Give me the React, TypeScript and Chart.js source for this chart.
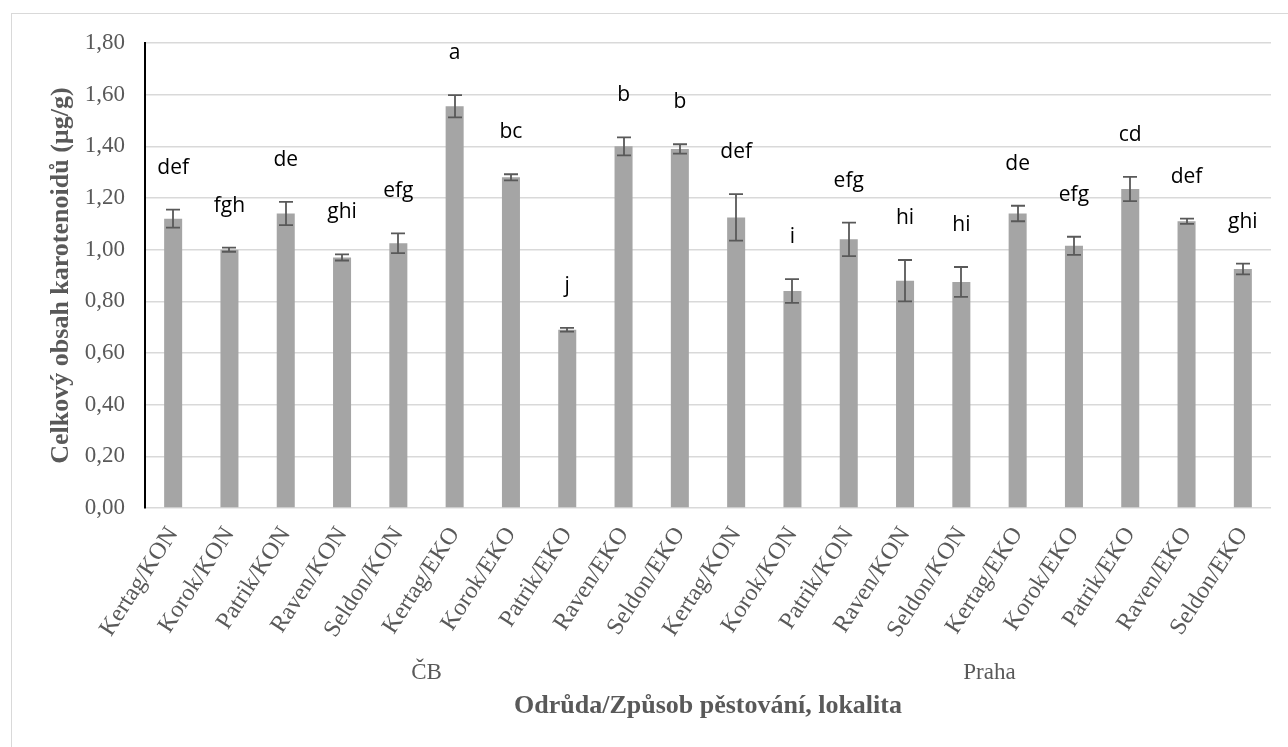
import React, { useEffect, useRef } from 'react';
import { Chart, registerables } from 'chart.js';

Chart.register(...registerables);

const categories = [
  'Kertag/KON', 'Korok/KON', 'Patrik/KON', 'Raven/KON', 'Seldon/KON',
  'Kertag/EKO', 'Korok/EKO', 'Patrik/EKO', 'Raven/EKO', 'Seldon/EKO',
  'Kertag/KON', 'Korok/KON', 'Patrik/KON', 'Raven/KON', 'Seldon/KON',
  'Kertag/EKO', 'Korok/EKO', 'Patrik/EKO', 'Raven/EKO', 'Seldon/EKO',
];
const groups = ['ČB', 'Praha'];
const values = [1.12, 1.0, 1.14, 0.97, 1.025, 1.555, 1.28, 0.69, 1.4, 1.39, 1.125, 0.84, 1.04, 0.88, 0.875, 1.14, 1.015, 1.235, 1.11, 0.925];
const errors = [0.035, 0.008, 0.045, 0.012, 0.038, 0.043, 0.012, 0.007, 0.035, 0.018, 0.09, 0.046, 0.065, 0.08, 0.058, 0.03, 0.035, 0.047, 0.01, 0.021];
const letters = ['def', 'fgh', 'de', 'ghi', 'efg', 'a', 'bc', 'j', 'b', 'b', 'def', 'i', 'efg', 'hi', 'hi', 'de', 'efg', 'cd', 'def', 'ghi'];
const yMin = 0;
const yMax = 1.8;
const yStep = 0.2;
const yTitle = 'Celkový obsah karotenoidů (µg/g)';
const xTitle = 'Odrůda/Způsob pěstování, lokalita';

const TEXT = '#595959';
const SERIF = '"Liberation Serif", "Times New Roman", serif';

const overlay = {
  id: 'overlay',
  afterDatasetsDraw(chart: any) {
    const { ctx } = chart;
    const meta = chart.getDatasetMeta(0);
    const y = chart.scales.y;
    const x = chart.scales.x;
    ctx.save();
    // error bars
    ctx.strokeStyle = '#595959';
    ctx.lineWidth = 1.8;
    meta.data.forEach((bar: any, i: number) => {
      const top = y.getPixelForValue(values[i] + errors[i]);
      const bot = y.getPixelForValue(values[i] - errors[i]);
      const cx = Math.round(bar.x);
      const cap = 7;
      ctx.beginPath();
      ctx.moveTo(cx, top);
      ctx.lineTo(cx, bot);
      ctx.moveTo(cx - cap, top);
      ctx.lineTo(cx + cap, top);
      ctx.moveTo(cx - cap, bot);
      ctx.lineTo(cx + cap, bot);
      ctx.stroke();
    });
    // significance letters
    ctx.fillStyle = '#000';
    ctx.font = '21px "Open Sans", sans-serif';
    ctx.textAlign = 'center';
    ctx.textBaseline = 'middle';
    meta.data.forEach((bar: any, i: number) => {
      const top = y.getPixelForValue(values[i] + errors[i]);
      ctx.fillText(letters[i], bar.x, top - 42);
    });
    // group labels
    ctx.fillStyle = TEXT;
    ctx.font = `23px ${SERIF}`;
    const per = categories.length / groups.length;
    groups.forEach((g, gi) => {
      const a = x.getPixelForTick(gi * per + per / 2 - 1);
      const b = x.getPixelForTick(gi * per + per / 2);
      ctx.fillText(g, (a + b) / 2, x.bottom - 74);
    });
    ctx.restore();
  },
};

export default function App() {
  const ref = useRef<HTMLCanvasElement>(null);
  useEffect(() => {
    document.body.style.margin = '0';
    document.body.style.overflow = 'hidden';
    const canvas = ref.current!;
    const chart = new Chart(canvas, {
      type: 'bar',
      data: {
        labels: categories,
        datasets: [
          {
            data: values,
            backgroundColor: '#a5a5a5',
            barPercentage: 0.32,
            categoryPercentage: 1,
          },
        ],
      },
      options: {
        animation: false,
        responsive: false,
        devicePixelRatio: 1,
        layout: { padding: { left: 0, right: 17, top: 43, bottom: 0 } },
        plugins: { legend: { display: false }, tooltip: { enabled: false } },
        scales: {
          x: {
            grid: { display: false },
            border: { display: false },
            ticks: {
              autoSkip: false,
              minRotation: 57,
              maxRotation: 57,
              padding: 6,
              color: TEXT,
              font: { family: SERIF, size: 24 },
            },
            title: {
              display: true,
              text: xTitle,
              color: TEXT,
              font: { family: SERIF, size: 26, weight: 'bold' },
              padding: { top: 0, bottom: 25 },
            },
            afterFit: (s: any) => {
              s.height = 239;
            },
          },
          y: {
            min: yMin,
            max: yMax,
            ticks: {
              stepSize: yStep,
              padding: 20,
              color: TEXT,
              font: { family: SERIF, size: 23 },
              callback: (v: any) => Number(v).toFixed(2).replace('.', ','),
            },
            grid: { color: '#d9d9d9', lineWidth: 1.5, drawTicks: false },
            border: { color: '#000', width: 2 },
            title: {
              display: true,
              text: yTitle,
              color: TEXT,
              font: { family: SERIF, size: 26, weight: 'bold' },
              padding: { top: 46, bottom: 0 },
            },
            afterFit: (s: any) => {
              s.width = 145;
            },
          },
        },
      },
      plugins: [overlay],
    });
    return () => chart.destroy();
  }, []);

  return (
    <div style={{ position: 'relative', width: 1288, height: 747, background: '#fff', overflow: 'hidden' }}>
      <div
        style={{
          position: 'absolute',
          left: 11,
          top: 13,
          width: 1300,
          height: 800,
          borderTop: '1.5px solid #d9d9d9',
          borderLeft: '1.5px solid #d9d9d9',
        }}
      />
      <canvas ref={ref} width={1288} height={747} style={{ position: 'absolute', left: 0, top: 0, width: 1288, height: 747 }} />
    </div>
  );
}
